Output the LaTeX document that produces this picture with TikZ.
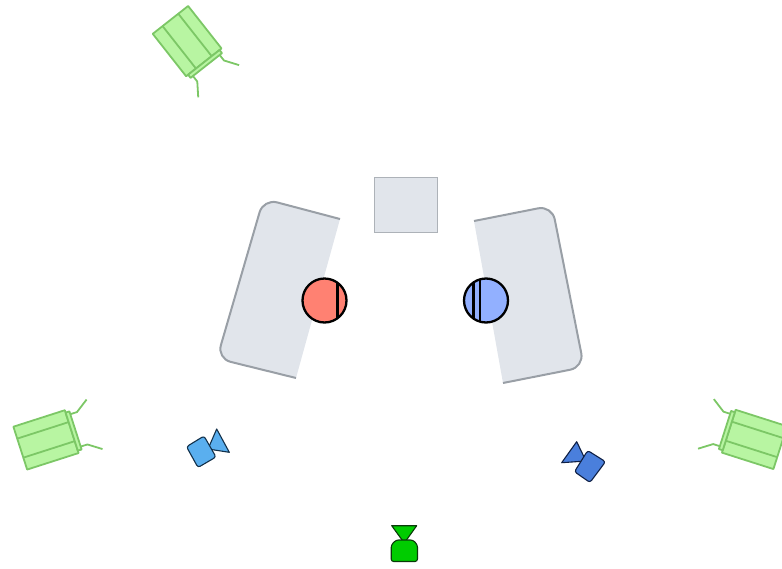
\documentclass[tikz,border=0pt]{standalone}
\definecolor{panelfill}{HTML}{E1E5EB}
\definecolor{panelline}{HTML}{999FA6}
\definecolor{lampfill}{HTML}{B8F5A2}
\definecolor{lampline}{HTML}{7CC766}
\definecolor{redball}{HTML}{FF8172}
\definecolor{blueball}{HTML}{92B0FF}
\definecolor{camA}{HTML}{5AAFEF}
\definecolor{camB}{HTML}{4A7FDC}
\definecolor{camC}{HTML}{00CC00}
\definecolor{camAline}{HTML}{12304A}
\definecolor{camBline}{HTML}{0F2045}
\definecolor{camCline}{HTML}{0A3A0A}
\tikzset{
  panelbody/.style={fill=panelfill,draw=none},
  paneledge/.style={draw=panelline,line width=2pt,line join=round},
  lampshape/.style={draw=lampline,fill=lampfill,line width=1.8pt,line join=round},
  lampdetail/.style={draw=lampline,line width=1.8pt,line join=round},
  ballring/.style={draw=black,line width=2.3pt},
  ballbar/.style={draw=black,line width=2.1pt},
  camshape/.style={line width=1.1pt,line join=round},
  lamp/.pic={
    \draw[lampshape] (-58,-22.5) rectangle (-4,22.5);
    \draw[lampshape] (-4,-20) rectangle (0,20);
    \draw[lampdetail] (-58,-10) -- (-4,-10) (-58,10) -- (-4,10);
    \draw[lampdetail] (0,-17) -- (7,-17) -- (20,-26);
    \draw[lampdetail] (0,17) -- (7,17) -- (20,26);
  }
}
\begin{document}
\begin{tikzpicture}[x=1pt,y=-1pt]
\useasboundingbox (0,0) rectangle (782,568);
\clip (0,0) rectangle (782,568);
% panels
\fill[panelbody] (340,219) [rounded corners=14pt] -- (263.5,198.8) -- (217,358.5) [sharp corners] -- (296,378) -- cycle;
\draw[paneledge] (340,219) [rounded corners=14pt] -- (263.5,198.8) -- (217,358.5) [sharp corners] -- (296,378);
\fill[panelbody] (474,221) [rounded corners=14pt] -- (552,205.6) -- (584,367) [sharp corners] -- (503,383) -- cycle;
\draw[paneledge] (474,221) [rounded corners=14pt] -- (552,205.6) -- (584,367) [sharp corners] -- (503,383);
\draw[fill=panelfill,draw=panelline!80,line width=.8pt] (374,177) rectangle (437,232);
% lamps
\pic[rotate=-51.8] at (206.3,65.5) {lamp};
\pic[rotate=17.8] at (75.5,430.4) {lamp};
\pic[rotate=162.3] at (725,430) {lamp};
% balls
\fill[redball] (324.5,300.5) circle (22);
\begin{scope}
\clip (324.5,300.5) circle (22);
\draw[ballbar] (337.5,270) -- (337.5,330);
\end{scope}
\draw[ballring] (324.5,300.5) circle (22);
\fill[blueball] (486,300.5) circle (22);
\begin{scope}
\clip (486,300.5) circle (22);
\draw[ballbar] (473.5,270) -- (473.5,330);
\draw[ballbar] (480,270) -- (480,330);
\end{scope}
\draw[ballring] (486,300.5) circle (22);
% cameras
\draw[camshape,fill=camA,draw=camAline] (208,449) -- (216.7,429) -- (229.3,452.3) -- cycle;
\draw[camshape,fill=camA,draw=camAline,rounded corners=2.5pt] (186.5,446.7) -- (204,436) -- (216,457) -- (198,467.5) -- cycle;
\draw[camshape,fill=camB,draw=camBline] (586,461) -- (576.7,441.7) -- (561.7,462.7) -- cycle;
\draw[camshape,fill=camB,draw=camBline,rounded corners=2.5pt] (587.7,450.5) -- (605.5,461.7) -- (590,482.5) -- (574.5,471.7) -- cycle;
\draw[camshape,fill=camC,draw=camCline] (391.7,525.7) -- (416.7,525.7) -- (404.3,543) -- cycle;
\draw[camshape,fill=camC,draw=camCline,rounded corners=2.5pt] (391.2,561.5) -- (391.2,545) -- (396,540) -- (413,540) -- (417.5,545) -- (417.5,561.5) -- cycle;
\end{tikzpicture}
\end{document}
